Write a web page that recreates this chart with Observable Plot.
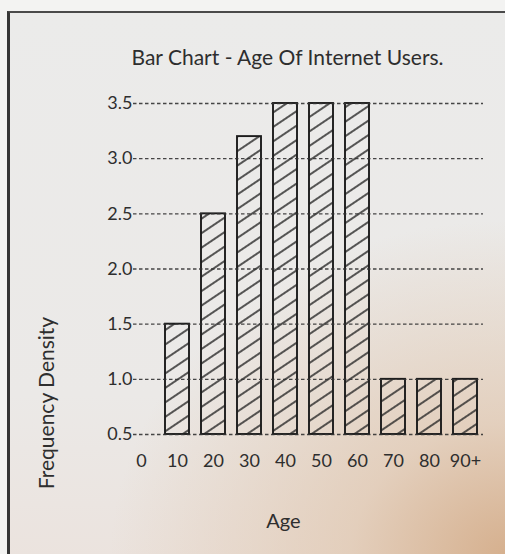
<!DOCTYPE html>
<html>
<head>
<meta charset="utf-8">
<script src="https://cdn.jsdelivr.net/npm/d3@7"></script>
<script src="https://cdn.jsdelivr.net/npm/@observablehq/plot@0.6"></script>
<style>
  html, body { margin: 0; padding: 0; background: #f3f3f2; }
  #wrap { position: relative; width: 505px; height: 554px; overflow: hidden; }
  #paper {
    position: absolute; left: 7px; top: 11px; right: -6px; bottom: -4px;
    border-left: 3px solid #363636; border-top: 2px solid #4a4a4a;
    background:
      radial-gradient(ellipse 80% 62% at 100% 100%, rgba(212,172,136,0.95) 0%, rgba(224,198,174,0.72) 40%, rgba(233,228,224,0) 100%),
      linear-gradient(to bottom, #ebebea 0%, #ebe9e7 70%, #ebe3de 100%);
  }
  #chart { position: absolute; left: 0; top: 0; }
</style>
</head>
<body>
<div id="wrap"><div id="paper"></div><div id="chart"></div></div>
<script>
const titleText = "Bar Chart - Age Of Internet Users.";
const xLabel = "Age";
const yLabel = "Frequency Density";
const ageLabels = ["0", "10", "20", "30", "40", "50", "60", "70", "80", "90+"];
const barAges = ["10", "20", "30", "40", "50", "60", "70", "80", "90+"];
const densities = [1.5, 2.5, 3.2, 3.5, 3.5, 3.5, 1.0, 1.0, 1.0];
const yTicks = [0.5, 1.0, 1.5, 2.0, 2.5, 3.0, 3.5];
const baseline = 0.5;

const bars = barAges.map((age, i) => ({age, density: densities[i]}));
const font = "Lato, 'Open Sans', sans-serif";
const ink = "#2e2e2e";

const chart = Plot.plot({
  width: 505,
  height: 554,
  marginTop: 103,
  marginBottom: 120,
  marginLeft: 133,
  marginRight: 22,
  style: {background: "transparent", fontFamily: font, color: ink, overflow: "visible"},
  x: {type: "band", domain: ageLabels, padding: 0.34, insetLeft: -18, insetRight: -7, label: null},
  y: {domain: [baseline, yTicks[yTicks.length - 1]], label: null},
  marks: [
    Plot.barY(bars, {x: "age", y1: () => baseline, y2: "density", fill: "url(#hatch)", stroke: "#1c1c1c", strokeWidth: 1.9}),
    Plot.gridY(yTicks, {stroke: "#333", strokeOpacity: 0.9, strokeWidth: 1.4, strokeDasharray: "3.5 2.5"}),
    Plot.axisY({ticks: yTicks, tickSize: 0, tickPadding: 1, tickFormat: d3.format(".1f"), fontSize: 18, letterSpacing: 0.4, label: null, fill: ink}),
    Plot.axisX({tickSize: 0, tickPadding: 20, fontSize: 18, label: null, fill: ink}),
    Plot.text([titleText], {frameAnchor: "top", dy: -53, dx: -21, fontSize: 21, letterSpacing: 0.9, fill: ink}),
    Plot.text([xLabel], {frameAnchor: "bottom", dy: 93, dx: -25, fontSize: 20, fill: ink}),
    Plot.text([yLabel], {frameAnchor: "left", textAnchor: "middle", rotate: -90, dx: -86, dy: 134, fontSize: 21, letterSpacing: 0.5, fill: ink})
  ]
});

const defs = d3.select(chart).insert("defs", ":first-child");
const pat = defs.append("pattern")
  .attr("id", "hatch")
  .attr("patternUnits", "userSpaceOnUse")
  .attr("width", 12)
  .attr("height", 12)
  .attr("patternTransform", "rotate(-34)");
pat.append("line")
  .attr("x1", -1).attr("y1", 6).attr("x2", 13).attr("y2", 6)
  .attr("stroke", "#222").attr("stroke-width", 1.5);

document.getElementById("chart").append(chart);
</script>
</body>
</html>
